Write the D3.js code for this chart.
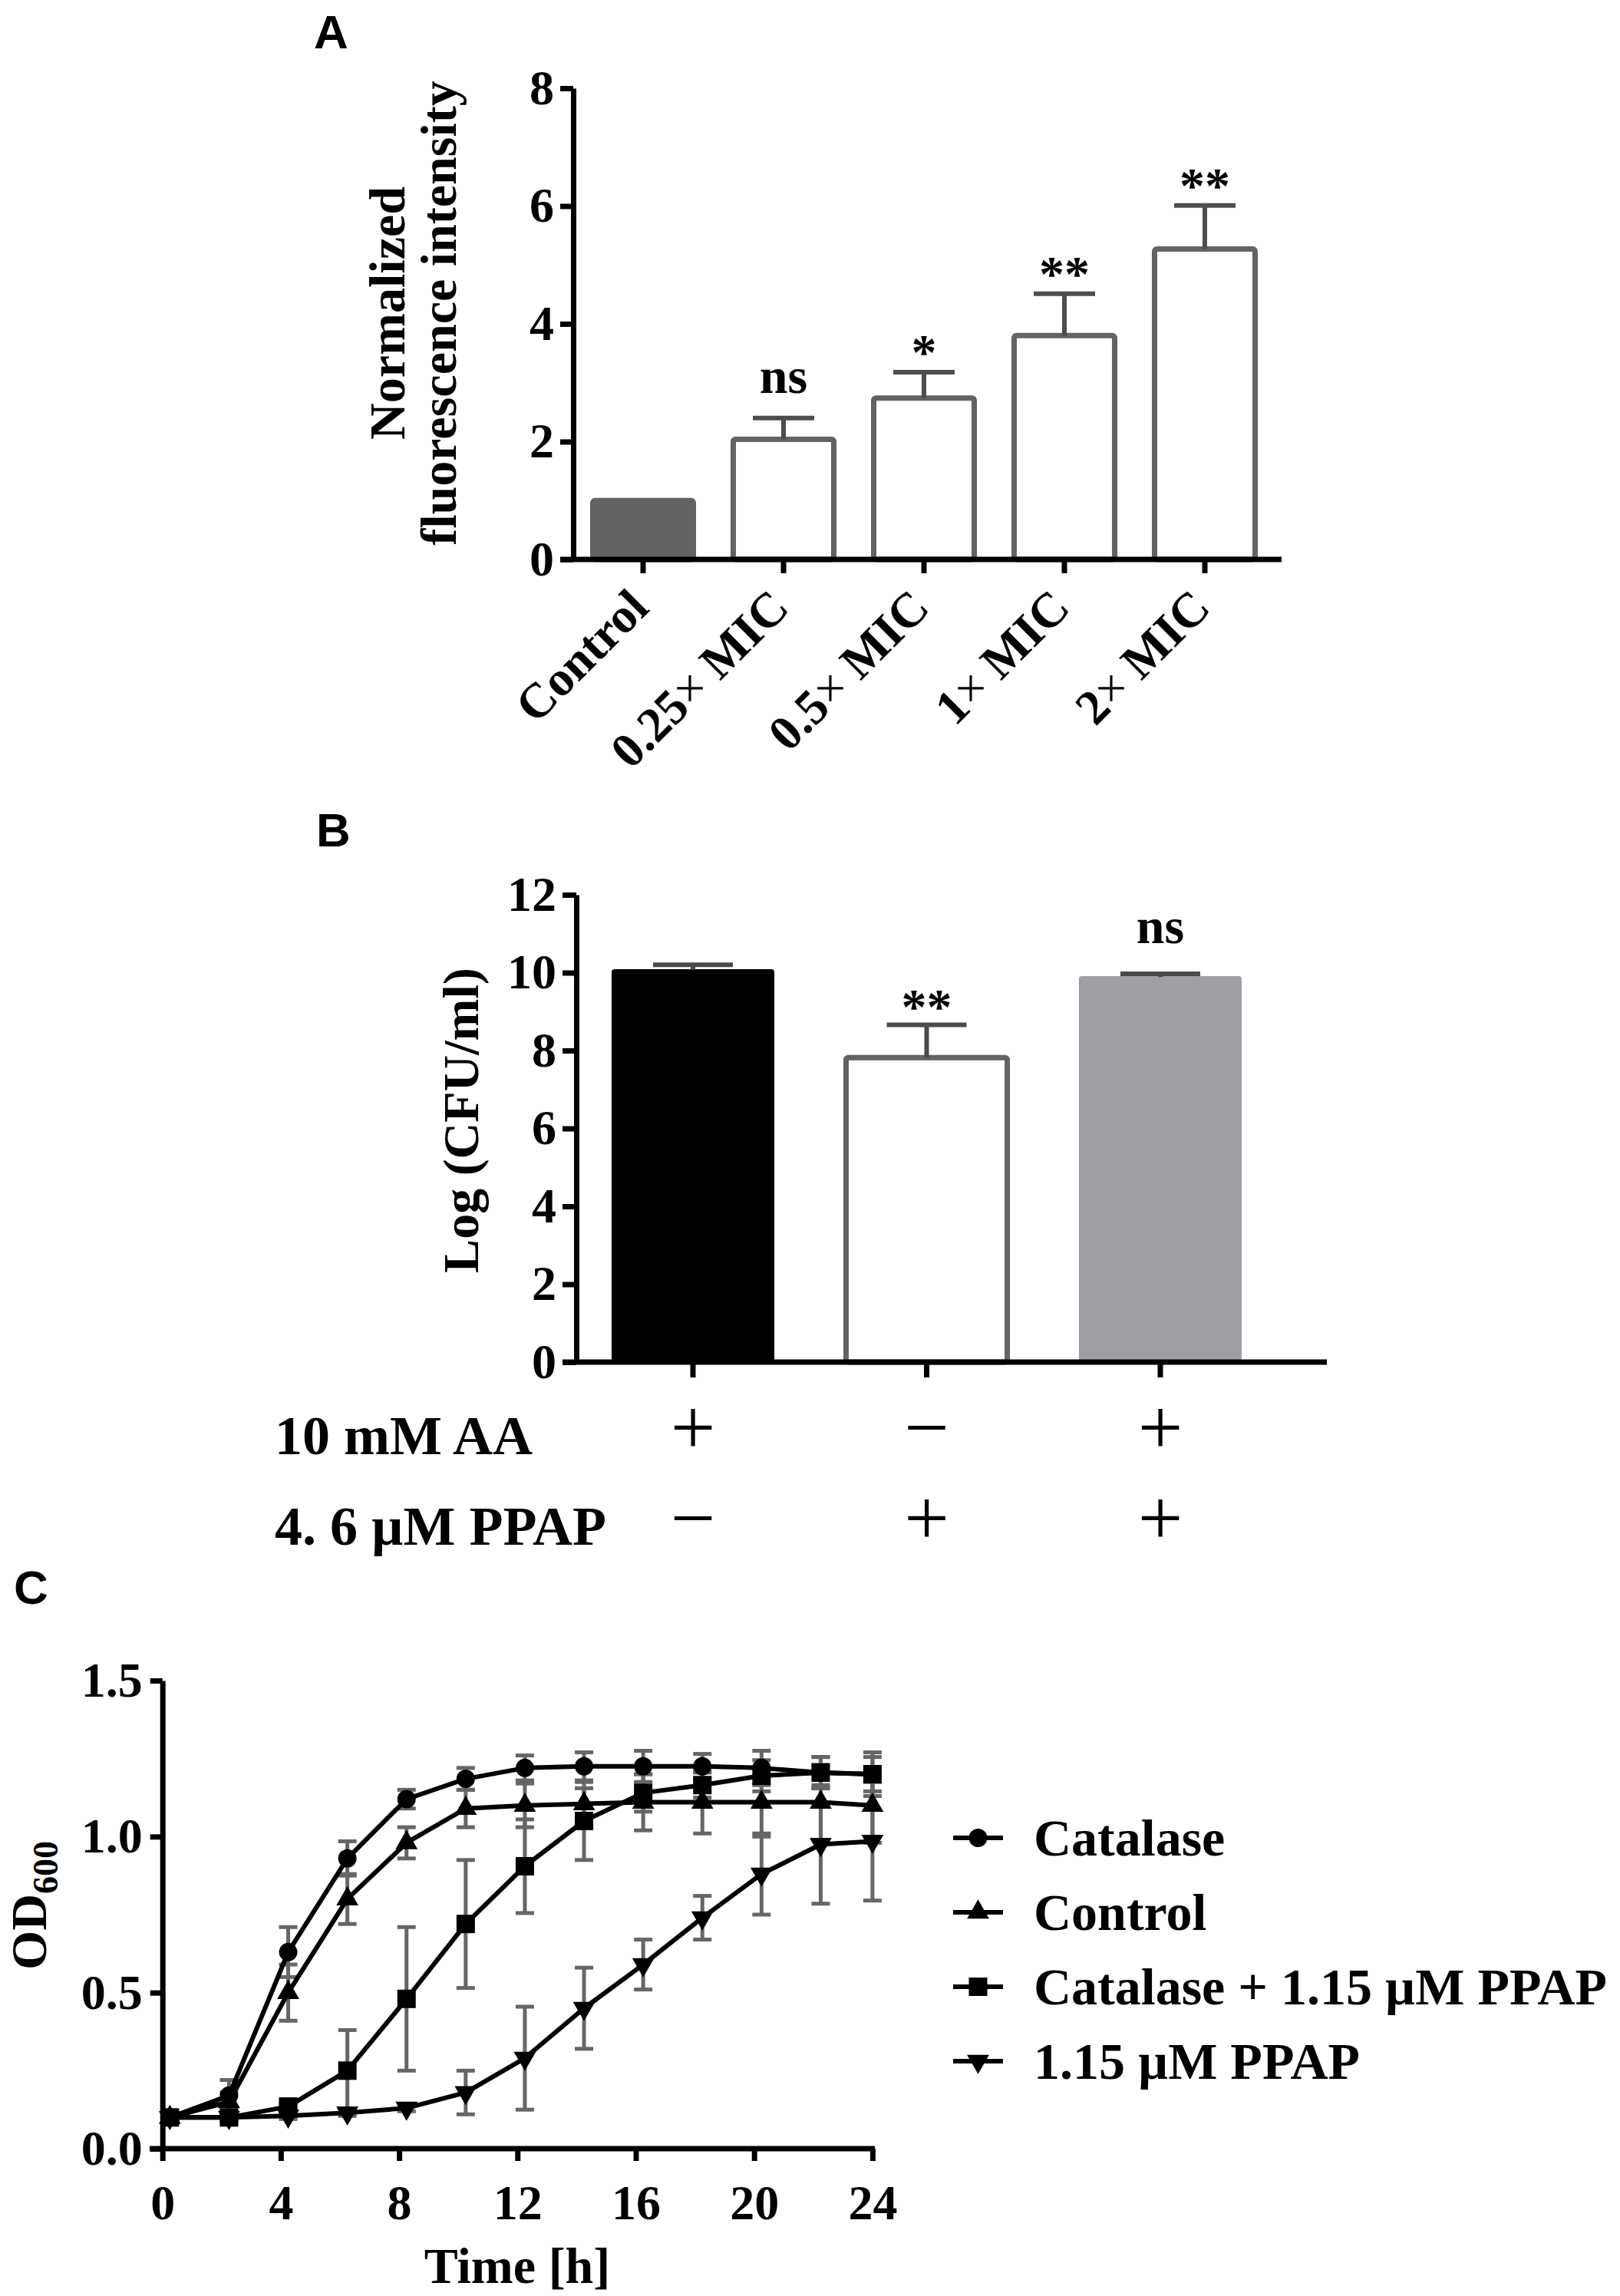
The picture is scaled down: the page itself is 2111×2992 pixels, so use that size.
<!DOCTYPE html>
<html>
<head>
<meta charset="utf-8">
<script src="https://cdn.jsdelivr.net/npm/d3@7"></script>
<style>
  body { margin: 0; background: #fff; }
  svg text { font-family: "Liberation Serif", "Times New Roman", serif; font-weight: bold; fill: #000; }
  svg text.panel { font-family: "Liberation Sans", Arial, sans-serif; }
</style>
</head>
<body>
<svg width="2111" height="2992"></svg>
<script>
// ---- data: panel A ----
const catsA = ['Control', '0.25× MIC', '0.5× MIC', '1× MIC', '2× MIC'];
const valsA = [1.0, 2.04, 2.74, 3.80, 5.27];
const errA = [0, 0.36, 0.44, 0.71, 0.74];
const sigA = ['', 'ns', '*', '**', '**'];
const ticksA = [0, 2, 4, 6, 8];

// ---- data: panel B ----
const catsB = ['AA', 'PPAP', 'AA + PPAP'];
const valsB = [10.07, 7.82, 9.89];
const errB = [0.13, 0.84, 0.08];
const sigB = ['', '**', 'ns'];
const ticksB = [0, 2, 4, 6, 8, 10, 12];
const rowLabelsB = ['10 mM AA', '4. 6 \u00B5M PPAP'];
const aaSigns = ['+', '−', '+'];
const ppapSigns = ['−', '+', '+'];

// ---- data: panel C ----
const timesC = [0.25, 2.25, 4.25, 6.25, 8.25, 10.25, 12.25, 14.25, 16.25, 18.25, 20.25, 22.25, 24];
const seriesNames = ['Catalase', 'Control', 'Catalase + 1.15 \u00B5M PPAP', '1.15 \u00B5M PPAP'];
const catalaseMean = [0.10, 0.17, 0.63, 0.93, 1.12, 1.185, 1.22, 1.225, 1.225, 1.225, 1.22, 1.205, 1.20];
const catalaseSd   = [0.01, 0.05, 0.08, 0.055, 0.03, 0.035, 0.04, 0.045, 0.05, 0.04, 0.055, 0.05, 0.055];
const controlMean  = [0.10, 0.15, 0.50, 0.80, 0.98, 1.09, 1.10, 1.105, 1.11, 1.11, 1.11, 1.11, 1.10];
const controlSd    = [0.01, 0.03, 0.09, 0.08, 0.05, 0.06, 0.07, 0.05, 0.09, 0.10, 0.11, 0.12, 0.12];
const catPpapMean  = [0.10, 0.10, 0.135, 0.25, 0.48, 0.72, 0.905, 1.05, 1.14, 1.165, 1.195, 1.205, 1.20];
const catPpapSd    = [0.01, 0.01, 0.01, 0.13, 0.23, 0.205, 0.15, 0.125, 0.06, 0.04, 0.05, 0.05, 0.07];
const ppapMean     = [0.10, 0.10, 0.105, 0.115, 0.13, 0.18, 0.29, 0.45, 0.59, 0.74, 0.88, 0.975, 0.985];
const ppapSd       = [0.01, 0.01, 0.01, 0.01, 0.01, 0.07, 0.165, 0.13, 0.08, 0.07, 0.13, 0.19, 0.19];
const ticksCx = [0, 4, 8, 12, 16, 20, 24];
const ticksCy = [0, 0.5, 1.0, 1.5];

const svg = d3.select('svg');
const serif = '"Liberation Serif", "Times New Roman", serif';

const styleAxis = (g, fs) => {
  g.attr('font-family', serif).attr('font-size', fs).attr('font-weight', 'bold');
  g.select('.domain').attr('stroke', '#000').attr('stroke-width', 7);
  g.selectAll('.tick line').attr('stroke', '#000').attr('stroke-width', 7);
  g.selectAll('.tick text').attr('fill', '#000');
};

// panel letters
svg.append('text').attr('class', 'panel').attr('x', 409).attr('y', 63).attr('font-size', 62).text('A');
svg.append('text').attr('class', 'panel').attr('x', 412).attr('y', 1103).attr('font-size', 62).text('B');
svg.append('text').attr('class', 'panel').attr('x', 18).attr('y', 2090).attr('font-size', 62).text('C');

// ================= Panel A =================
const yA = d3.scaleLinear().domain([0, 8]).range([729, 115]);
const xA = d3.scaleBand().domain(catsA).range([746.5, 1661.5])
  .paddingInner(0.284).paddingOuter(0.142);
const gA = svg.append('g');

gA.selectAll('rect.bar')
  .data(catsA)
  .join('rect')
  .attr('class', 'bar')
  .attr('x', d => xA(d))
  .attr('width', xA.bandwidth())
  .attr('y', (d, i) => yA(valsA[i]))
  .attr('height', (d, i) => yA(0) - yA(valsA[i]))
  .attr('rx', 3)
  .attr('fill', (d, i) => i === 0 ? '#636363' : '#fff')
  .attr('stroke', '#636363')
  .attr('stroke-width', 7);

const errAg = gA.selectAll('g.err')
  .data(catsA.filter((d, i) => errA[i] > 0))
  .join('g')
  .attr('class', 'err');
errAg.append('line')
  .attr('x1', d => xA(d) + xA.bandwidth() / 2)
  .attr('x2', d => xA(d) + xA.bandwidth() / 2)
  .attr('y1', d => yA(valsA[catsA.indexOf(d)]))
  .attr('y2', d => { const i = catsA.indexOf(d); return yA(valsA[i] + errA[i]); })
  .attr('stroke', '#4d4d4d').attr('stroke-width', 6);
errAg.append('line')
  .attr('x1', d => xA(d) + xA.bandwidth() / 2 - 40)
  .attr('x2', d => xA(d) + xA.bandwidth() / 2 + 40)
  .attr('y1', d => { const i = catsA.indexOf(d); return yA(valsA[i] + errA[i]); })
  .attr('y2', d => { const i = catsA.indexOf(d); return yA(valsA[i] + errA[i]); })
  .attr('stroke', '#4d4d4d').attr('stroke-width', 6);

gA.selectAll('text.sig')
  .data(catsA)
  .join('text')
  .attr('class', 'sig')
  .attr('text-anchor', 'middle')
  .attr('font-size', 66)
  .attr('x', d => xA(d) + xA.bandwidth() / 2)
  .attr('y', (d, i) => yA(valsA[i] + errA[i]) - (sigA[i] === 'ns' ? 33 : 4))
  .text((d, i) => sigA[i]);

gA.append('g')
  .attr('transform', 'translate(747,0)')
  .call(d3.axisLeft(yA).tickValues(ticksA).tickSize(17).tickSizeOuter(0).tickPadding(8))
  .call(g => styleAxis(g, 64));

const axA = gA.append('g')
  .attr('transform', 'translate(0,729)')
  .call(d3.axisBottom(xA).tickSize(18).tickSizeOuter(0).tickFormat(''))
  .call(g => styleAxis(g, 64));
axA.select('.domain').remove();
axA.append('line').attr('x1', 730).attr('x2', 1670).attr('stroke', '#000').attr('stroke-width', 7);

gA.selectAll('text.cat')
  .data(catsA)
  .join('text')
  .attr('class', 'cat')
  .attr('text-anchor', 'end')
  .attr('font-size', 64)
  .attr('transform', d => `translate(${xA(d) + xA.bandwidth() / 2 + 10},795) rotate(-45)`)
  .each(function(d) {
    const parts = d.split('×');
    const t = d3.select(this);
    t.append('tspan').text(parts[0]);
    if (parts.length > 1) {
      t.append('tspan').attr('font-weight', 'normal').text('×');
      t.append('tspan').text(parts[1]);
    }
  });

const titleA = gA.append('text')
  .attr('transform', 'translate(0,408) rotate(-90)')
  .attr('text-anchor', 'middle')
  .attr('font-size', 66);
titleA.append('tspan').attr('x', 0).attr('y', 527).text('Normalized');
titleA.append('tspan').attr('x', 0).attr('y', 594).text('fluorescence intensity');

// ================= Panel B =================
const yB = d3.scaleLinear().domain([0, 12]).range([1775, 1166]);
const xB = d3.scaleBand().domain(catsB).range([750.75, 1664.25])
  .paddingInner(0.31).paddingOuter(0.155);
const fillB = ['#000', '#fff', '#a0a0a4'];
const gB = svg.append('g');

gB.selectAll('rect.bar')
  .data(catsB)
  .join('rect')
  .attr('class', 'bar')
  .attr('x', d => xB(d))
  .attr('width', xB.bandwidth())
  .attr('y', (d, i) => yB(valsB[i]))
  .attr('height', (d, i) => yB(0) - yB(valsB[i]))
  .attr('rx', 3)
  .attr('fill', (d, i) => fillB[i])
  .attr('stroke', (d, i) => i === 1 ? '#636363' : fillB[i])
  .attr('stroke-width', (d, i) => i === 1 ? 7 : 2);

const errBg = gB.selectAll('g.err').data(catsB).join('g').attr('class', 'err');
errBg.append('line')
  .attr('x1', d => xB(d) + xB.bandwidth() / 2)
  .attr('x2', d => xB(d) + xB.bandwidth() / 2)
  .attr('y1', (d, i) => yB(valsB[i]))
  .attr('y2', (d, i) => yB(valsB[i] + errB[i]))
  .attr('stroke', '#4a4a4a').attr('stroke-width', 6);
errBg.append('line')
  .attr('x1', d => xB(d) + xB.bandwidth() / 2 - 52)
  .attr('x2', d => xB(d) + xB.bandwidth() / 2 + 52)
  .attr('y1', (d, i) => yB(valsB[i] + errB[i]))
  .attr('y2', (d, i) => yB(valsB[i] + errB[i]))
  .attr('stroke', '#4a4a4a').attr('stroke-width', 6);

gB.selectAll('text.sig')
  .data(catsB)
  .join('text')
  .attr('class', 'sig')
  .attr('text-anchor', 'middle')
  .attr('font-size', 66)
  .attr('x', d => xB(d) + xB.bandwidth() / 2)
  .attr('y', (d, i) => yB(valsB[i] + errB[i]) - (sigB[i] === 'ns' ? 40 : 2))
  .text((d, i) => sigB[i]);

gB.append('g')
  .attr('transform', 'translate(751,0)')
  .call(d3.axisLeft(yB).tickValues(ticksB).tickSize(18).tickSizeOuter(0).tickPadding(8))
  .call(g => styleAxis(g, 64));

const axB = gB.append('g')
  .attr('transform', 'translate(0,1775)')
  .call(d3.axisBottom(xB).tickSize(20).tickSizeOuter(0).tickFormat(''))
  .call(g => styleAxis(g, 64));
axB.select('.domain').remove();
axB.append('line').attr('x1', 733).attr('x2', 1729).attr('stroke', '#000').attr('stroke-width', 7);

gB.append('text')
  .attr('transform', 'translate(0,1460) rotate(-90)')
  .attr('text-anchor', 'middle')
  .attr('font-size', 66)
  .attr('x', 0).attr('y', 623)
  .text('Log (CFU/ml)');

const rowsB = [aaSigns, ppapSigns];
const rowY = [1895, 2013];
rowLabelsB.forEach((lab, r) => {
  gB.append('text').attr('x', 358).attr('y', rowY[r]).attr('font-size', 72).text(lab);
  gB.selectAll(`text.sign${r}`)
    .data(catsB)
    .join('text')
    .attr('class', `sign${r}`)
    .attr('text-anchor', 'middle')
    .style('font-weight', 'normal')
    .attr('font-size', 104)
    .attr('x', d => xB(d) + xB.bandwidth() / 2)
    .attr('y', rowY[r])
    .text((d, i) => rowsB[r][i]);
});

// ================= Panel C =================
const xC = d3.scaleLinear().domain([0, 24]).range([211.7, 1136.9]);
const yC = d3.scaleLinear().domain([0, 1.5]).range([2800, 2190]);
const gC = svg.append('g');

const shapes = [d3.symbolCircle, d3.symbolTriangle, d3.symbolSquare, d3.symbolTriangle];
const shapeSize = [452, 360, 576, 360];
const shapeRot = [0, 0, 0, 180];
const series = [
  { name: seriesNames[0], mean: catalaseMean, sd: catalaseSd },
  { name: seriesNames[1], mean: controlMean, sd: controlSd },
  { name: seriesNames[2], mean: catPpapMean, sd: catPpapSd },
  { name: seriesNames[3], mean: ppapMean, sd: ppapSd }
];
const pts = s => timesC.map((t, i) => ({ t, v: s.mean[i], sd: s.sd[i] }));

// error bars
series.forEach(s => {
  const eg = gC.append('g').selectAll('g').data(pts(s)).join('g');
  eg.append('line')
    .attr('x1', d => xC(d.t)).attr('x2', d => xC(d.t))
    .attr('y1', d => yC(d.v - d.sd)).attr('y2', d => yC(d.v + d.sd))
    .attr('stroke', '#666').attr('stroke-width', 5);
  [-1, 1].forEach(k => {
    eg.append('line')
      .attr('x1', d => xC(d.t) - 12).attr('x2', d => xC(d.t) + 12)
      .attr('y1', d => yC(d.v + k * d.sd)).attr('y2', d => yC(d.v + k * d.sd))
      .attr('stroke', '#666').attr('stroke-width', 5);
  });
});

const line = d3.line().x(d => xC(d.t)).y(d => yC(d.v));
series.forEach((s, si) => {
  gC.append('path')
    .datum(pts(s))
    .attr('d', line)
    .attr('fill', 'none')
    .attr('stroke', '#000')
    .attr('stroke-width', 6)
    .attr('stroke-linejoin', 'round');
  gC.append('g').selectAll('path')
    .data(pts(s))
    .join('path')
    .attr('d', d3.symbol().type(shapes[si]).size(shapeSize[si]))
    .attr('transform', d => `translate(${xC(d.t)},${yC(d.v)}) rotate(${shapeRot[si]})`)
    .attr('fill', '#000');
});

gC.append('g')
  .attr('transform', 'translate(211.7,0)')
  .call(d3.axisLeft(yC).tickValues(ticksCy).tickSize(16).tickSizeOuter(0).tickPadding(10)
    .tickFormat(d3.format('.1f')))
  .call(g => styleAxis(g, 64));

const axC = gC.append('g')
  .attr('transform', 'translate(0,2800)')
  .call(d3.axisBottom(xC).tickValues(ticksCx).tickSize(16).tickSizeOuter(0).tickPadding(31))
  .call(g => styleAxis(g, 64));
axC.select('.domain').remove();
axC.append('line').attr('x1', 195).attr('x2', 1140).attr('stroke', '#000').attr('stroke-width', 7);

gC.append('text')
  .attr('x', 674).attr('y', 2975)
  .attr('text-anchor', 'middle')
  .attr('font-size', 66)
  .text('Time [h]');

const odLabel = gC.append('text')
  .attr('transform', 'translate(0,2483) rotate(-90)')
  .attr('text-anchor', 'middle')
  .attr('x', 0).attr('y', 60)
  .attr('font-size', 66);
odLabel.append('tspan').text('OD');
odLabel.append('tspan').attr('font-size', 46).attr('dy', 15).text('600');

// legend
const leg = gC.append('g').selectAll('g')
  .data(series)
  .join('g')
  .attr('transform', (d, i) => `translate(0,${2395 + i * 97})`);
leg.append('line')
  .attr('x1', 1242).attr('x2', 1307)
  .attr('stroke', '#000').attr('stroke-width', 6);
leg.append('path')
  .attr('d', (d, i) => d3.symbol().type(shapes[i]).size(shapeSize[i])())
  .attr('transform', (d, i) => `translate(1274.5,0) rotate(${shapeRot[i]})`)
  .attr('fill', '#000');
leg.append('text')
  .attr('x', 1347).attr('y', 23)
  .attr('font-size', 68)
  .text(d => d.name);
</script>
</body>
</html>
